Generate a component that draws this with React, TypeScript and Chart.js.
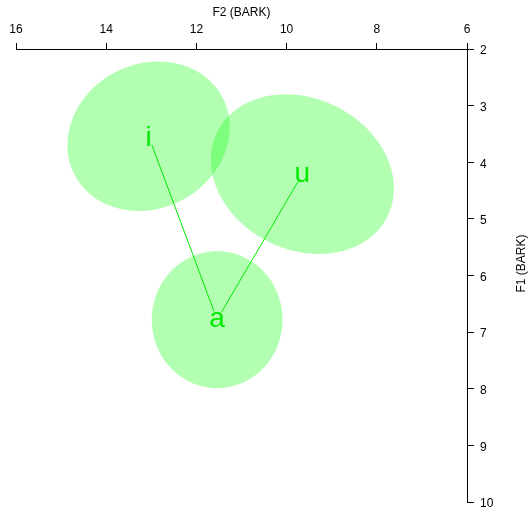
import React, { useEffect, useRef } from 'react';
import { Chart, registerables } from 'chart.js';

Chart.register(...registerables);

// ---- data ----
const vowels = ['i', 'u', 'a'];
const f2Means = [13.06, 9.65, 11.54];
const f1Means = [3.54, 4.21, 6.78];
const f2Spread = [1.8, 2.03, 1.45];
const f1Spread = [1.32, 1.41, 1.21];
const spreadCorr = [0.12, -0.18, 0.0];
const pathOrder = ['i', 'a', 'u'];
const f2Ticks = [16, 14, 12, 10, 8, 6];
const f1Ticks = [2, 3, 4, 5, 6, 7, 8, 9, 10];
const xTitle = 'F2 (BARK)';
const yTitle = 'F1 (BARK)';

const FONT = '"Liberation Sans", Arial, Helvetica, sans-serif';
const GREEN = 'rgb(0,235,0)';
const FILL = 'rgba(0,255,0,0.3)';

const vowelPlugin = {
  id: 'vowelPlot',
  beforeDatasetsDraw(chart: any) {
    const { ctx } = chart;
    const xs = chart.scales.x;
    const ys = chart.scales.y;
    ctx.save();
    // ellipses
    vowels.forEach((v, k) => {
      ctx.beginPath();
      const n = 160;
      const r = spreadCorr[k];
      for (let s = 0; s <= n; s++) {
        const t = (s / n) * Math.PI * 2;
        const dx = f2Spread[k] * Math.cos(t);
        const dy = f1Spread[k] * (r * Math.cos(t) + Math.sqrt(1 - r * r) * Math.sin(t));
        const px = xs.getPixelForValue(f2Means[k] + dx);
        const py = ys.getPixelForValue(f1Means[k] + dy);
        if (s === 0) ctx.moveTo(px, py);
        else ctx.lineTo(px, py);
      }
      ctx.closePath();
      ctx.fillStyle = FILL;
      ctx.fill();
    });
    // connecting lines with gaps around labels
    const gap = 9;
    ctx.strokeStyle = GREEN;
    ctx.lineWidth = 1;
    for (let s = 0; s < pathOrder.length - 1; s++) {
      const a = vowels.indexOf(pathOrder[s]);
      const b = vowels.indexOf(pathOrder[s + 1]);
      const x0 = xs.getPixelForValue(f2Means[a]);
      const y0 = ys.getPixelForValue(f1Means[a]);
      const x1 = xs.getPixelForValue(f2Means[b]);
      const y1 = ys.getPixelForValue(f1Means[b]);
      const len = Math.hypot(x1 - x0, y1 - y0);
      const ux = (x1 - x0) / len;
      const uy = (y1 - y0) / len;
      ctx.beginPath();
      ctx.moveTo(x0 + ux * gap, y0 + uy * gap);
      ctx.lineTo(x1 - ux * gap, y1 - uy * gap);
      ctx.stroke();
    }
    // labels
    ctx.fillStyle = GREEN;
    ctx.font = `28px ${FONT}`;
    ctx.textAlign = 'center';
    ctx.textBaseline = 'alphabetic';
    vowels.forEach((v, k) => {
      const px = xs.getPixelForValue(f2Means[k]);
      const py = ys.getPixelForValue(f1Means[k]);
      const m = ctx.measureText(v);
      const asc = m.actualBoundingBoxAscent;
      const desc = m.actualBoundingBoxDescent;
      ctx.fillText(v, px, py + (asc - desc) / 2);
    });
    ctx.restore();
  },
  afterDraw(chart: any) {
    const { ctx, chartArea } = chart;
    ctx.save();
    ctx.fillStyle = '#000';
    ctx.font = `12px ${FONT}`;
    ctx.textAlign = 'center';
    ctx.textBaseline = 'middle';
    ctx.translate(chartArea.right + 55, (chartArea.top + chartArea.bottom) / 2 - 12);
    ctx.rotate(-Math.PI / 2);
    ctx.fillText(yTitle, 0, 0);
    ctx.restore();
  },
};

export default function App() {
  const ref = useRef<HTMLCanvasElement | null>(null);
  useEffect(() => {
    if (!ref.current) return;
    const chart = new Chart(ref.current, {
      type: 'scatter',
      data: {
        datasets: [
          {
            label: 'vowels',
            data: vowels.map((v, k) => ({ x: f2Means[k], y: f1Means[k] })),
            pointRadius: 0,
            showLine: false,
          },
        ],
      },
      options: {
        animation: false,
        responsive: false,
        events: [],
        layout: { padding: { left: 16, right: 0, top: 0, bottom: 14 } },
        plugins: { legend: { display: false }, tooltip: { enabled: false } },
        scales: {
          x: {
            type: 'linear',
            position: 'top',
            reverse: true,
            min: Math.min(...f2Ticks),
            max: Math.max(...f2Ticks),
            afterBuildTicks: (scale: any) => {
              scale.ticks = f2Ticks.map((v) => ({ value: v }));
            },
            afterFit: (scale: any) => {
              scale.height = 49;
            },
            ticks: {
              color: '#000',
              font: { family: FONT, size: 12 },
              padding: 6,
              maxRotation: 0,
              callback: (v: any) => String(v),
            },
            grid: { drawOnChartArea: false, drawTicks: true, tickLength: 6, color: '#000', tickColor: '#000' },
            border: { display: true, color: '#000', width: 1 },
            title: { display: true, text: xTitle, color: '#000', font: { family: FONT, size: 12 }, padding: { top: 5, bottom: 0 } },
          },
          y: {
            type: 'linear',
            position: 'right',
            reverse: true,
            min: Math.min(...f1Ticks),
            max: Math.max(...f1Ticks),
            afterBuildTicks: (scale: any) => {
              scale.ticks = f1Ticks.map((v) => ({ value: v }));
            },
            afterFit: (scale: any) => {
              scale.width = 62;
            },
            ticks: {
              color: '#000',
              font: { family: FONT, size: 12 },
              padding: 6,
              labelOffset: 2,
              callback: (v: any) => String(v),
            },
            grid: { drawOnChartArea: false, drawTicks: true, tickLength: 7, color: '#000', tickColor: '#000' },
            border: { display: true, color: '#000', width: 1 },
            title: { display: false },
          },
        },
      },
      plugins: [vowelPlugin],
    });
    return () => chart.destroy();
  }, []);
  return (
    <div style={{ position: 'absolute', left: 0, top: 0, width: 529, height: 516 }}>
      <canvas ref={ref} width={529} height={516} style={{ display: 'block' }} />
    </div>
  );
}
